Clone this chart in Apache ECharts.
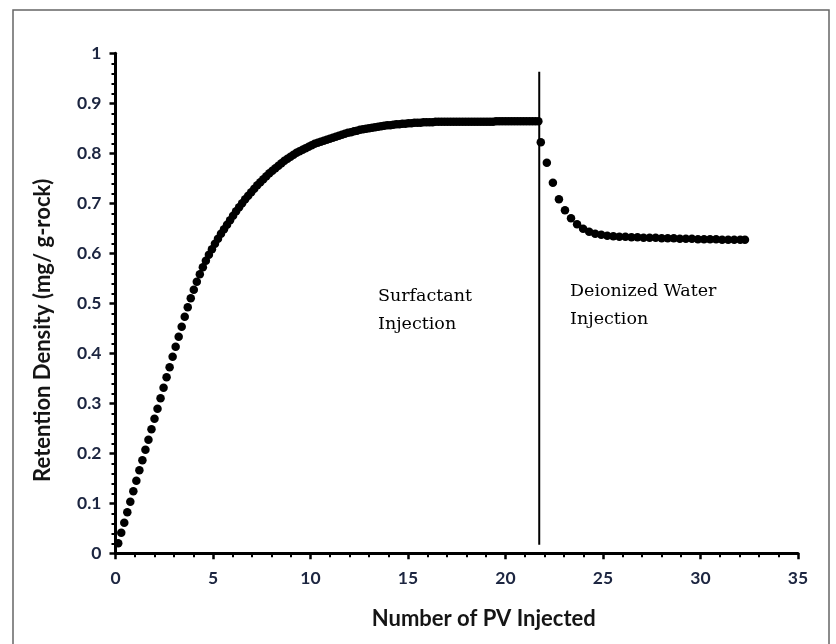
<!DOCTYPE html>
<html>
<head>
<meta charset="utf-8">
<script src="https://cdn.jsdelivr.net/npm/echarts@6/dist/echarts.min.js"></script>
<style>
  html, body { margin: 0; padding: 0; background: #ffffff; }
  #chart { width: 836px; height: 644px; }
</style>
</head>
<body>
<div id="chart"></div>
<script>
// Surfactant injection phase: pore volumes injected and retention density (mg/g-rock)
const surfactantPV = [
  0.14, 0.295, 0.45, 0.605, 0.76, 0.915, 1.07, 1.225, 1.38, 1.535,
  1.69, 1.845, 2.0, 2.155, 2.31, 2.465, 2.62, 2.775, 2.93, 3.085,
  3.24, 3.395, 3.55, 3.705, 3.86, 4.015, 4.17, 4.325, 4.48, 4.635,
  4.79, 4.945, 5.1, 5.255, 5.41, 5.565, 5.72, 5.875, 6.03, 6.185,
  6.34, 6.495, 6.65, 6.805, 6.96, 7.115, 7.27, 7.425, 7.58, 7.735,
  7.89, 8.045, 8.2, 8.355, 8.51, 8.665, 8.82, 8.975, 9.13, 9.285,
  9.44, 9.595, 9.75, 9.905, 10.06, 10.215, 10.37, 10.525, 10.68, 10.835,
  10.99, 11.145, 11.3, 11.455, 11.61, 11.765, 11.92, 12.075, 12.23, 12.385,
  12.54, 12.695, 12.85, 13.005, 13.16, 13.315, 13.47, 13.625, 13.78, 13.935,
  14.09, 14.245, 14.4, 14.555, 14.71, 14.865, 15.02, 15.175, 15.33, 15.485,
  15.64, 15.795, 15.95, 16.105, 16.26, 16.415, 16.57, 16.725, 16.88, 17.035,
  17.19, 17.345, 17.5, 17.655, 17.81, 17.965, 18.12, 18.275, 18.43, 18.585,
  18.74, 18.895, 19.05, 19.205, 19.36, 19.515, 19.67, 19.825, 19.98, 20.135,
  20.29, 20.445, 20.6, 20.755, 20.91, 21.065, 21.22, 21.375, 21.53, 21.685
];
const surfactantRD = [
  0.020, 0.041, 0.061, 0.082, 0.103, 0.124, 0.145, 0.166, 0.186, 0.207,
  0.227, 0.248, 0.269, 0.289, 0.310, 0.331, 0.352, 0.372, 0.393, 0.413,
  0.433, 0.453, 0.473, 0.492, 0.510, 0.527, 0.543, 0.558, 0.572, 0.585,
  0.597, 0.608, 0.619, 0.629, 0.639, 0.648, 0.657, 0.666, 0.675, 0.684,
  0.692, 0.700, 0.708, 0.715, 0.722, 0.729, 0.736, 0.742, 0.748, 0.754,
  0.760, 0.765, 0.770, 0.775, 0.780, 0.785, 0.789, 0.793, 0.797, 0.801,
  0.804, 0.807, 0.810, 0.813, 0.816, 0.819, 0.821, 0.823, 0.825, 0.827,
  0.829, 0.831, 0.833, 0.835, 0.837, 0.839, 0.841, 0.842, 0.844, 0.845,
  0.847, 0.848, 0.849, 0.850, 0.851, 0.852, 0.853, 0.854, 0.855, 0.856,
  0.856, 0.857, 0.858, 0.858, 0.859, 0.859, 0.860, 0.860, 0.861, 0.861,
  0.861, 0.862, 0.862, 0.862, 0.862, 0.863, 0.863, 0.863, 0.863, 0.863,
  0.863, 0.863, 0.863, 0.863, 0.863, 0.863, 0.863, 0.863, 0.863, 0.863,
  0.863, 0.863, 0.863, 0.863, 0.863, 0.864, 0.864, 0.864, 0.864, 0.864,
  0.864, 0.864, 0.864, 0.864, 0.864, 0.864, 0.864, 0.864, 0.864, 0.864
];

// Deionized water post-flush phase
const waterPV = [
  21.81, 22.12, 22.43, 22.74, 23.05, 23.36, 23.67, 23.98, 24.29, 24.60,
  24.91, 25.22, 25.53, 25.84, 26.15, 26.46, 26.77, 27.08, 27.39, 27.70,
  28.01, 28.32, 28.63, 28.94, 29.25, 29.56, 29.87, 30.18, 30.49, 30.80,
  31.11, 31.42, 31.73, 32.04, 32.28
];
const waterRD = [
  0.822, 0.781, 0.741, 0.708, 0.686, 0.670, 0.658, 0.649, 0.643, 0.639,
  0.637, 0.635, 0.634, 0.633, 0.633, 0.632, 0.632, 0.631, 0.631, 0.631,
  0.630, 0.630, 0.630, 0.629, 0.629, 0.629, 0.628, 0.628, 0.628, 0.628,
  0.627, 0.627, 0.627, 0.627, 0.627
];

// Boundary between the two injection stages
const switchPV = 21.73;
const switchLineRD = [0.017, 0.963];

// Stage annotations (anchor = top-left of text, in data units)
const stageLabels = ['Surfactant\nInjection', 'Deionized Water\nInjection'];
const stageAnchors = [[13.46, 0.541], [23.31, 0.551]];

const xTicks = { min: 0, max: 35, interval: 5 };
const yTicks = { min: 0, max: 1, interval: 0.1 };

const xName = 'Number of PV Injected';
const yName = 'Retention Density (mg/ g-rock)';

const pair = (xs, ys) => xs.map((x, i) => [x, ys[i]]);

const chart = echarts.init(document.getElementById('chart'), null, { renderer: 'canvas' });

const labelFont = { fontFamily: 'Lato', fontWeight: 'bold', fontSize: 17.5, color: '#1c2540' };
const titleFont = { fontFamily: 'Lato', fontWeight: 'bold', fontSize: 22, color: '#151515' };

const axisCommon = {
  type: 'value',
  axisLine: { show: true, onZero: false, lineStyle: { color: '#000', width: 3 } },
  axisTick: { show: true, inside: false, length: 6, lineStyle: { color: '#000', width: 2.5 } },
  minorTick: { show: true, splitNumber: 5, length: 4, lineStyle: { color: '#000', width: 2 } },
  splitLine: { show: false },
  minorSplitLine: { show: false }
};

chart.setOption({
  animation: false,
  backgroundColor: '#ffffff',
  grid: { left: 115.5, right: 38, top: 53.3, bottom: 90.7, containLabel: false },
  xAxis: Object.assign({}, axisCommon, {
    min: xTicks.min, max: xTicks.max, interval: xTicks.interval,
    name: xName, nameLocation: 'middle', nameGap: 55,
    nameTextStyle: Object.assign({ padding: [0, 0, 0, 54] }, titleFont),
    axisLabel: Object.assign({ margin: 16 }, labelFont)
  }),
  yAxis: Object.assign({}, axisCommon, {
    min: yTicks.min, max: yTicks.max, interval: yTicks.interval,
    name: yName, nameLocation: 'middle', nameGap: 62,
    nameTextStyle: Object.assign({ padding: [0, 54, 0, 0] }, titleFont),
    axisLabel: Object.assign({ margin: 14 }, labelFont)
  }),
  series: [
    {
      name: 'Surfactant',
      type: 'scatter',
      data: pair(surfactantPV, surfactantRD),
      symbol: 'circle',
      symbolSize: 8.5,
      itemStyle: { color: '#000', opacity: 1 },
      z: 3
    },
    {
      name: 'Deionized Water',
      type: 'scatter',
      data: pair(waterPV, waterRD),
      symbol: 'circle',
      symbolSize: 8.5,
      itemStyle: { color: '#000', opacity: 1 },
      z: 3
    },
    {
      name: 'Switch',
      type: 'line',
      data: switchLineRD.map(v => [switchPV, v]),
      symbol: 'none',
      lineStyle: { color: '#000', width: 2 },
      z: 2
    }
  ]
});

// Place the stage annotations and the outer frame
const annotations = stageLabels.map((txt, i) => {
  const p = chart.convertToPixel({ gridIndex: 0 }, stageAnchors[i]);
  return {
    type: 'text',
    x: p[0], y: p[1],
    style: {
      text: txt,
      fontFamily: 'DejaVu Serif',
      fontSize: 17.5,
      lineHeight: 28,
      fill: '#000',
      textAlign: 'left',
      textVerticalAlign: 'top'
    },
    z: 5
  };
});

chart.setOption({
  graphic: annotations.concat([{
    type: 'rect',
    shape: { x: 13, y: 10, width: 816, height: 660 },
    style: { fill: 'none', stroke: '#666', lineWidth: 1.5 },
    silent: true,
    z: 0
  }])
});
</script>
</body>
</html>
